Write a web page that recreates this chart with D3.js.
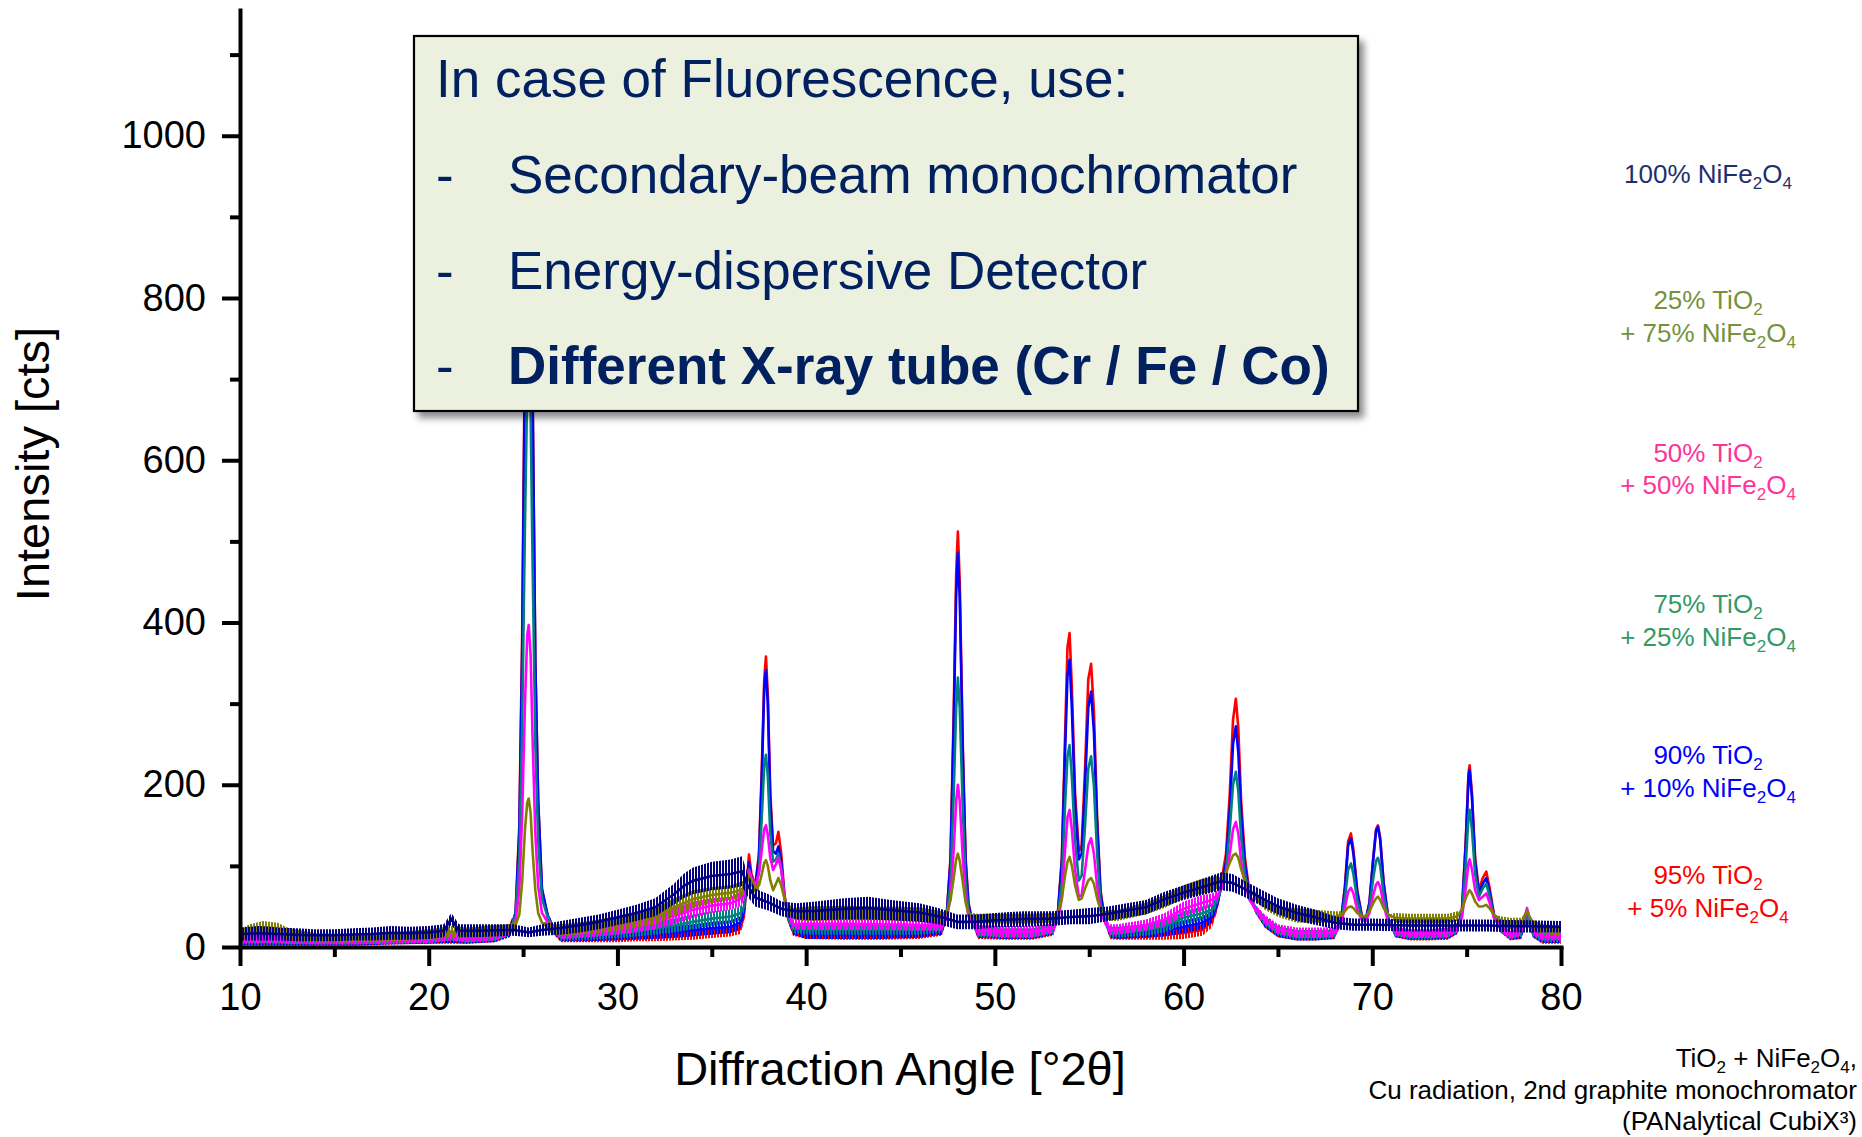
<!DOCTYPE html>
<html><head><meta charset="utf-8">
<script src="https://cdn.jsdelivr.net/npm/d3@7"></script>
<style>
html,body{margin:0;padding:0;background:#fff;}
svg{display:block;font-family:"Liberation Sans",Arial,Helvetica,sans-serif;}
</style>
</head><body>
<svg id="chart" width="1862" height="1137"></svg>
<script>
// ---------------- data ----------------
const xTicks = [10, 20, 30, 40, 50, 60, 70, 80];
const xMinorTicks = [15, 25, 35, 45, 55, 65, 75];
const yTicks = [0, 200, 400, 600, 800, 1000];
const yMinorTicks = [100, 300, 500, 700, 900, 1100];
const xDomain = [10, 80];
const yDomain = [0, 1155];

const seriesNames = ["95% TiO2 + 5% NiFe2O4", "90% TiO2 + 10% NiFe2O4", "75% TiO2 + 25% NiFe2O4",
                     "50% TiO2 + 50% NiFe2O4", "25% TiO2 + 75% NiFe2O4", "100% NiFe2O4"];
const seriesColors = ["#ff0000", "#0000ff", "#008080", "#ff00ff", "#808000", "#000080"];

// each point: [angle °2θ, lower edge of noise band, upper edge] (single value = narrow peak)
const red95 = [[10.05,2,14],[10.5,2,9],[11.5,2,9],[12.5,2,8],[14,2,8],[16,2,8],[18,3,9],[20,4,10],[21.2,4,12],[22,4,11],[23.5,6,14],[24.3,14,30],[24.6,36,46],[24.8,150],[24.95,380],[25.1,750],[25.22,1000],[25.3,1050],[25.4,950],[25.5,700],[25.65,350],[25.8,180],[26.0,70],[26.3,34,44],[26.6,16,26],[27,6,16],[28.5,6,16],[30,6,17],[31,7,18],[32,7,19],[33,8,20],[34,9,22],[35,11,24],[36,13,25],[36.5,16,28],[36.7,30,44],[36.85,70,84],[36.97,110,118],[37.1,85,95],[37.3,70,80],[37.5,110,120],[37.65,220],[37.78,330],[37.87,358],[37.97,310],[38.1,190],[38.25,125],[38.4,128],[38.53,142],[38.68,115],[38.85,65],[39.05,30,38],[39.3,14,26],[40,10,22],[42,9,21],[44,9,21],[46,10,22],[47.2,14,26],[47.45,40],[47.65,110],[47.82,290],[47.95,460],[48.04,512],[48.14,450],[48.3,250],[48.45,110],[48.6,55],[48.8,28,36],[49.1,10,22],[50.5,9,20],[52,9,20],[53.1,14,26],[53.35,45],[53.55,110],[53.72,260],[53.85,370],[53.96,387],[54.08,320],[54.25,190],[54.45,118],[54.6,125],[54.78,220],[54.95,330],[55.1,349],[55.25,290],[55.42,160],[55.6,70],[55.8,32,40],[56.1,10,24],[56.5,9,21],[58,9,21],[59,9,22],[60,10,24],[61,14,28],[61.5,24,38],[61.8,45,60],[62.0,80],[62.25,115],[62.45,190],[62.62,280],[62.77,306],[62.9,270],[63.05,180],[63.25,110],[63.5,65],[63.8,42,52],[64.3,24,36],[65,12,24],[66,8,18],[67,8,18],[68,10,20],[68.35,30,38],[68.55,75],[68.72,130],[68.87,140],[69.0,120],[69.2,70],[69.45,38],[69.65,34],[69.85,55],[70.05,110],[70.2,145],[70.3,150],[70.42,135],[70.6,80],[70.85,35],[71.2,12,22],[72,8,20],[73,8,20],[74,9,21],[74.5,16,28],[74.75,45],[74.95,130],[75.1,215],[75.16,224],[75.28,190],[75.45,110],[75.65,70],[75.85,85],[76.04,93],[76.2,75],[76.45,40],[76.8,18,30],[77.3,8,18],[77.9,10,22],[78.2,40],[78.5,12,24],[79,4,14],[80,4,14]];

const blue90 = [[10.05,2,12],[10.5,2,10],[11.5,2,10],[12.5,2,9],[14,2,9],[16,2,9],[18,3,10],[20,4,11],[21.2,5,14],[22,4,12],[23.5,6,15],[24.3,12,28],[24.6,34,44],[24.8,140],[24.95,360],[25.1,720],[25.22,950],[25.3,1000],[25.4,920],[25.5,690],[25.65,350],[25.8,180],[26.0,72],[26.3,34,44],[26.6,17,27],[27,7,17],[28.5,7,18],[30,8,20],[31,9,22],[32,10,24],[33,11,26],[34,13,28],[35,15,31],[36,17,33],[36.5,22,38],[36.7,36,50],[36.85,75,85],[36.97,100,108],[37.1,80,90],[37.3,68,78],[37.5,105,115],[37.65,210],[37.78,320],[37.87,341],[37.97,300],[38.1,180],[38.25,118],[38.4,115],[38.53,124],[38.68,105],[38.85,62],[39.05,32,40],[39.3,15,27],[40,10,23],[42,10,23],[44,10,23],[46,11,24],[47.2,15,27],[47.45,40],[47.65,105],[47.82,275],[47.95,435],[48.04,486],[48.14,430],[48.3,240],[48.45,105],[48.6,52],[48.8,28,36],[49.1,11,23],[50.5,10,21],[52,10,21],[53.1,15,27],[53.35,45],[53.55,105],[53.72,240],[53.85,335],[53.96,354],[54.08,295],[54.25,175],[54.45,108],[54.6,115],[54.78,200],[54.95,295],[55.1,315],[55.25,265],[55.42,150],[55.6,66],[55.8,32,40],[56.1,11,24],[56.5,10,22],[58,11,24],[59,13,27],[60,17,33],[61,22,38],[61.5,30,44],[61.8,48,60],[62.0,75],[62.25,105],[62.45,170],[62.62,250],[62.77,272],[62.9,240],[63.05,165],[63.25,102],[63.5,62],[63.8,42,52],[64.3,24,36],[65,12,24],[66,8,19],[67,8,19],[68,10,21],[68.35,30,38],[68.55,72],[68.72,125],[68.87,134],[69.0,115],[69.2,68],[69.45,37],[69.65,33],[69.85,54],[70.05,108],[70.2,143],[70.3,148],[70.42,132],[70.6,78],[70.85,35],[71.2,12,23],[72,9,21],[73,9,21],[74,10,22],[74.5,16,28],[74.75,44],[74.95,125],[75.1,210],[75.16,218],[75.28,185],[75.45,105],[75.65,66],[75.85,78],[76.04,85],[76.2,70],[76.45,38],[76.8,18,30],[77.3,9,19],[77.9,10,22],[78.2,38],[78.5,12,24],[79,5,15],[80,5,15]];

const teal75 = [[10.05,3,14],[10.5,3,12],[11.5,3,12],[12.5,3,11],[14,3,10],[16,3,10],[18,4,11],[20,5,13],[21.2,8,20],[22,5,14],[23.5,7,16],[24.3,14,28],[24.6,32,42],[24.8,110],[24.95,270],[25.1,520],[25.22,690],[25.3,720],[25.4,660],[25.5,480],[25.65,250],[25.8,130],[26.0,60],[26.3,32,42],[26.6,18,28],[27,8,20],[28.5,9,22],[30,11,25],[31,13,28],[32,15,31],[33,18,35],[34,22,40],[35,26,44],[36,29,46],[36.5,33,50],[36.7,42,56],[36.85,72,82],[36.97,92,100],[37.1,78,88],[37.3,66,76],[37.5,90,98],[37.65,160],[37.78,225],[37.87,237],[37.97,210],[38.1,140],[38.25,105],[38.4,108],[38.53,115],[38.68,98],[38.85,60],[39.05,32,40],[39.3,17,29],[40,15,28],[42,15,28],[44,15,28],[46,15,28],[47.2,18,30],[47.45,38],[47.65,80],[47.82,190],[47.95,295],[48.04,332],[48.14,295],[48.3,170],[48.45,80],[48.6,45],[48.8,28,36],[49.1,12,24],[50.5,11,23],[52,11,23],[53.1,16,28],[53.35,40],[53.55,80],[53.72,175],[53.85,235],[53.96,249],[54.08,210],[54.25,130],[54.45,82],[54.6,88],[54.78,150],[54.95,220],[55.1,235],[55.25,198],[55.42,115],[55.6,55],[55.8,30,38],[56.1,12,25],[56.5,12,25],[58,14,28],[59,18,33],[60,28,44],[61,33,50],[61.5,38,54],[61.8,52,64],[62.0,72],[62.25,95],[62.45,145],[62.62,200],[62.77,216],[62.9,192],[63.05,135],[63.25,90],[63.5,60],[63.8,42,52],[64.3,26,38],[65,14,26],[66,9,21],[67,9,21],[68,11,22],[68.35,28,36],[68.55,60],[68.72,95],[68.87,103],[69.0,90],[69.2,58],[69.45,36],[69.65,33],[69.85,48],[70.05,85],[70.2,106],[70.3,110],[70.42,100],[70.6,65],[70.85,33],[71.2,13,24],[72,10,22],[73,10,22],[74,11,23],[74.5,17,29],[74.75,40],[74.95,100],[75.1,162],[75.16,169],[75.28,145],[75.45,90],[75.65,62],[75.85,72],[76.04,78],[76.2,64],[76.45,36],[76.8,18,30],[77.3,10,20],[77.9,12,24],[78.2,38],[78.5,13,25],[79,6,16],[80,6,16]];

const magenta50 = [[10.05,4,18],[10.5,5,17],[11.5,5,17],[12.5,4,14],[14,3,12],[16,3,12],[18,4,13],[20,5,14],[21.2,8,20],[22,6,15],[23.5,8,18],[24.3,14,26],[24.6,26,36],[24.8,70],[24.95,160],[25.1,300],[25.22,385],[25.3,397],[25.4,360],[25.5,260],[25.65,140],[25.8,75],[26.0,42],[26.3,26,36],[26.6,18,28],[27,10,22],[28.5,12,26],[30,15,30],[31,18,34],[32,22,40],[33,28,48],[34,36,56],[35,42,60],[36,46,62],[36.5,50,68],[36.7,56,70],[36.85,78,88],[36.97,90,98],[37.1,80,90],[37.3,70,80],[37.5,85,95],[37.65,120],[37.78,145],[37.87,150],[37.97,138],[38.1,110],[38.25,95],[38.4,102],[38.53,110],[38.68,95],[38.85,62],[39.05,36,44],[39.3,22,34],[40,21,36],[42,21,36],[44,21,35],[46,20,34],[47.2,20,32],[47.45,35],[47.65,60],[47.82,120],[47.95,180],[48.04,200],[48.14,180],[48.3,110],[48.45,60],[48.6,38],[48.8,26,34],[49.1,14,27],[50.5,12,26],[52,12,26],[53.1,17,29],[53.35,32],[53.55,60],[53.72,120],[53.85,160],[53.96,169],[54.08,145],[54.25,95],[54.45,62],[54.6,64],[54.78,95],[54.95,125],[55.1,134],[55.25,115],[55.42,75],[55.6,45],[55.8,28,36],[56.1,15,28],[56.5,15,28],[58,20,34],[59,26,42],[60,38,56],[61,45,64],[61.5,50,66],[61.8,58,70],[62.0,72],[62.25,88],[62.45,115],[62.62,145],[62.77,154],[62.9,140],[63.05,105],[63.25,78],[63.5,58],[63.8,42,52],[64.3,28,40],[65,16,28],[66,11,24],[67,11,24],[68,12,24],[68.35,26,34],[68.55,48],[68.72,68],[68.87,73],[69.0,66],[69.2,46],[69.45,33],[69.65,32],[69.85,42],[70.05,64],[70.2,77],[70.3,80],[70.42,74],[70.6,52],[70.85,30],[71.2,14,25],[72,11,22],[73,11,22],[74,12,24],[74.5,18,30],[74.75,36],[74.95,72],[75.1,104],[75.16,108],[75.28,96],[75.45,70],[75.65,58],[75.85,62],[76.04,66],[76.2,56],[76.45,36],[76.8,18,30],[77.3,10,20],[77.9,14,26],[78.2,48],[78.5,15,26],[79,8,18],[80,8,18]];

const olive25 = [[10.05,8,22],[10.5,14,28],[11.2,17,32],[12.0,16,30],[12.5,9,24],[14,6,17],[16,6,16],[18,7,18],[20,9,22],[21.2,12,26],[22,11,24],[23.5,13,27],[24.3,16,28],[24.6,22,32],[24.8,40],[24.95,80],[25.1,145],[25.22,178],[25.3,183],[25.4,165],[25.5,120],[25.65,70],[25.8,42],[26.0,30],[26.3,20,32],[26.6,15,28],[27,14,28],[28.5,16,32],[30,20,38],[31,24,42],[32,28,48],[33,38,60],[34,48,70],[35,54,74],[36,58,76],[36.5,60,80],[36.7,64,82],[36.85,76,88],[36.97,82,92],[37.1,74,86],[37.3,66,78],[37.5,70,82],[37.65,90],[37.78,104],[37.87,107],[37.97,100],[38.1,82],[38.25,70],[38.4,78],[38.53,85],[38.68,76],[38.85,60],[39.05,42,54],[39.3,34,48],[40,32,50],[42,33,51],[44,33,50],[46,32,49],[47.2,30,44],[47.45,42],[47.65,58],[47.82,85],[47.95,108],[48.04,115],[48.14,106],[48.3,80],[48.45,55],[48.6,42],[48.8,34,42],[49.1,29,41],[50.5,29,41],[52,29,41],[53.1,30,42],[53.35,42],[53.55,60],[53.72,88],[53.85,105],[53.96,111],[54.08,100],[54.25,76],[54.45,58],[54.6,60],[54.78,72],[54.95,82],[55.1,85],[55.25,78],[55.42,60],[55.6,46],[55.8,36,44],[56.1,32,46],[56.5,32,46],[58,40,55],[59,48,64],[60,60,76],[61,66,84],[61.5,68,86],[61.8,72,88],[62.0,84],[62.25,92],[62.45,104],[62.62,113],[62.77,115],[62.9,110],[63.05,96],[63.25,82],[63.5,70],[63.8,58,68],[64.3,46,58],[65,37,50],[66,30,48],[67,30,46],[68,30,44],[68.35,36,44],[68.55,44],[68.72,49],[68.87,50],[69.0,48],[69.2,42],[69.45,38],[69.65,38],[69.85,44],[70.05,54],[70.2,60],[70.3,62],[70.42,58],[70.6,48],[70.85,40],[71.2,30,42],[72,29,41],[73,29,41],[74,29,41],[74.5,32,44],[74.75,46],[74.95,60],[75.1,68],[75.16,70],[75.28,66],[75.45,56],[75.65,50],[75.85,50],[76.04,52],[76.2,48],[76.45,40],[76.8,28,38],[77.3,22,36],[77.9,24,36],[78.2,45],[78.5,22,34],[79,16,28],[80,14,26]];

const navy100 = [[10.05,8,24],[11,8,26],[12,8,24],[13,7,23],[14,7,22],[15,7,22],[16,8,23],[17,8,24],[18,9,26],[19,9,25],[20,10,26],[20.8,12,28],[21.2,28,42],[21.6,12,28],[22.5,12,28],[23.5,13,28],[24.5,14,28],[25.3,12,24],[26,14,28],[27,15,32],[28,18,36],[29,22,40],[30,27,46],[31,32,52],[32,38,60],[33,52,78],[33.5,60,90],[34,65,98],[35,70,105],[36,72,108],[36.6,75,112],[36.9,62,90],[37.3,50,72],[38,45,65],[38.7,38,56],[39.5,34,54],[40.5,33,56],[42,34,60],[43.3,34,62],[44.5,33,58],[46,31,54],[47,28,48],[48,22,40],[49,22,40],[50,24,42],[51.5,25,44],[53,26,44],[54,28,46],[55,28,48],[56,32,50],[57,36,54],[58,40,58],[59,50,68],[60,58,76],[61,64,84],[62,70,92],[62.6,68,90],[63.2,62,82],[64,52,72],[65,40,60],[66,32,52],[67,27,46],[68,22,38],[69,20,35],[70,20,35],[72,19,34],[74,19,34],[76,19,34],[78,18,33],[80,18,32]];

const seriesData = [red95, blue90, teal75, magenta50, olive25, navy100];

// right-hand labels (top to bottom); "_n" marks a subscript digit
const labelLines = [
  {color: "#1f2f6e", lines: ["100% NiFe_2O_4"]},
  {color: "#76923c", lines: ["25% TiO_2", "+ 75% NiFe_2O_4"]},
  {color: "#ff3399", lines: ["50% TiO_2", "+ 50% NiFe_2O_4"]},
  {color: "#339966", lines: ["75% TiO_2", "+ 25% NiFe_2O_4"]},
  {color: "#0000ff", lines: ["90% TiO_2", "+ 10% NiFe_2O_4"]},
  {color: "#ff0000", lines: ["95% TiO_2", "+ 5% NiFe_2O_4"]}
];
const labelBaselines = [[183], [309, 342], [462, 494], [613, 646], [764, 797], [884, 917]];

const noteLines = ["TiO_2 + NiFe_2O_4,", "Cu radiation, 2nd graphite monochromator", "(PANalytical CubiX\u00B3)"];
const boxLines = ["In case of Fluorescence, use:", "Secondary-beam monochromator", "Energy-dispersive Detector", "Different X-ray tube (Cr / Fe / Co)"];

// ---------------- drawing ----------------
const svg = d3.select("#chart");
const x = d3.scaleLinear().domain(xDomain).range([240, 1561]);
const y = d3.scaleLinear().domain(yDomain).range([947, 10]);

const defs = svg.append("defs");
defs.append("clipPath").attr("id", "plotclip").append("rect")
  .attr("x", 240).attr("y", 10).attr("width", 1321).attr("height", 937);
const flt = defs.append("filter").attr("id", "shadow")
  .attr("x", "-5%").attr("y", "-5%").attr("width", "115%").attr("height", "125%");
flt.append("feDropShadow").attr("dx", 5).attr("dy", 6).attr("stdDeviation", 3.5)
  .attr("flood-color", "#000").attr("flood-opacity", 0.45);

// dense vertical-stripe fills that render the counting-noise band of each pattern
seriesColors.forEach((c, i) => {
  const p = defs.append("pattern").attr("id", "noise" + i)
    .attr("patternUnits", "userSpaceOnUse")
    .attr("width", 3).attr("height", 20)
    .attr("x", i % 3);
  p.append("rect").attr("x", 0).attr("y", 0).attr("width", 2).attr("height", 20).attr("fill", c);
});

const band = d3.area()
  .x(d => x(d[0]))
  .y0(d => y(d[1]))
  .y1(d => y(d.length > 2 ? d[2] : d[1]));
const mid = d3.line()
  .x(d => x(d[0]))
  .y(d => y(d.length > 2 ? (d[1] + d[2]) / 2 : d[1]));

const plot = svg.append("g").attr("clip-path", "url(#plotclip)");
seriesData.forEach((data, i) => {
  const g = plot.append("g");
  g.append("title").text(seriesNames[i]);
  g.append("path").datum(data)
    .attr("d", band)
    .attr("fill", "url(#noise" + i + ")")
    .attr("stroke", "none");
  g.append("path").datum(data)
    .attr("d", mid)
    .attr("fill", "none")
    .attr("stroke", seriesColors[i])
    .attr("stroke-width", 2.6)
    .attr("stroke-linejoin", "round");
});

// axes
function styleAxis(g) {
  g.select(".domain").attr("stroke", "#000").attr("stroke-width", 4).attr("stroke-linecap", "square");
  g.selectAll(".tick line").attr("stroke", "#000").attr("stroke-width", 4);
  g.selectAll(".tick text").attr("fill", "#000");
  g.attr("font-size", 38).attr("font-family", "'Liberation Sans', Arial, sans-serif");
}
const xAxisG = svg.append("g").attr("transform", "translate(0,947)")
  .call(d3.axisBottom(x).tickValues(xTicks).tickSize(19).tickSizeOuter(0).tickPadding(17).tickFormat(d3.format("d")));
styleAxis(xAxisG);
const xMinorG = svg.append("g").attr("transform", "translate(0,947)")
  .call(d3.axisBottom(x).tickValues(xMinorTicks).tickSize(10).tickSizeOuter(0).tickFormat(""));
styleAxis(xMinorG); xMinorG.select(".domain").remove();

const yAxisG = svg.append("g").attr("transform", "translate(240,0)")
  .call(d3.axisLeft(y).tickValues(yTicks).tickSize(18).tickSizeOuter(0).tickPadding(16).tickFormat(d3.format("d")));
styleAxis(yAxisG);
const yMinorG = svg.append("g").attr("transform", "translate(240,0)")
  .call(d3.axisLeft(y).tickValues(yMinorTicks).tickSize(10).tickSizeOuter(0).tickFormat(""));
styleAxis(yMinorG); yMinorG.select(".domain").remove();

// axis titles
svg.append("text").attr("transform", "translate(49,464) rotate(-90)")
  .attr("text-anchor", "middle").attr("font-size", 47).attr("fill", "#000")
  .text("Intensity [cts]");
svg.append("text").attr("x", 900).attr("y", 1085)
  .attr("text-anchor", "middle").attr("font-size", 47).attr("fill", "#000")
  .text("Diffraction Angle [\u00B02\u03B8]");

// text with subscripts
function richText(sel, str, subSize, shift) {
  const parts = str.split(/(_\d)/).filter(p => p.length);
  let shifted = false;
  parts.forEach(p => {
    if (p[0] === "_") {
      sel.append("tspan").attr("font-size", subSize).attr("dy", shifted ? 0 : shift).text(p.slice(1));
      shifted = true;
    } else {
      sel.append("tspan").attr("dy", shifted ? -shift : 0).text(p);
      shifted = false;
    }
  });
}

labelLines.forEach((lab, i) => {
  lab.lines.forEach((ln, j) => {
    const t = svg.append("text").attr("x", 1708).attr("y", labelBaselines[i][j])
      .attr("text-anchor", "middle").attr("font-size", 26).attr("fill", lab.color);
    richText(t, ln, 17, 6);
  });
});

noteLines.forEach((ln, j) => {
  const t = svg.append("text").attr("x", 1857).attr("y", 1067 + j * 31.5)
    .attr("text-anchor", "end").attr("font-size", 26).attr("fill", "#000");
  richText(t, ln, 17, 6);
});

// callout box
const box = svg.append("g");
box.append("rect").attr("x", 414).attr("y", 36).attr("width", 944).attr("height", 375)
  .attr("fill", "#ebf1de").attr("stroke", "#000").attr("stroke-width", 2.2)
  .attr("filter", "url(#shadow)");
const boxBase = [97, 193, 289, 384];
boxLines.forEach((ln, j) => {
  if (j === 0) {
    box.append("text").attr("x", 436).attr("y", boxBase[j]).attr("font-size", 53)
      .attr("fill", "#002060").text(ln);
  } else {
    box.append("text").attr("x", 436).attr("y", boxBase[j]).attr("font-size", 53)
      .attr("fill", "#002060").text("-");
    box.append("text").attr("x", 508).attr("y", boxBase[j]).attr("font-size", 53)
      .attr("fill", "#002060").attr("font-weight", j === 3 ? "bold" : "normal").text(ln);
  }
});
</script>
</body></html>
